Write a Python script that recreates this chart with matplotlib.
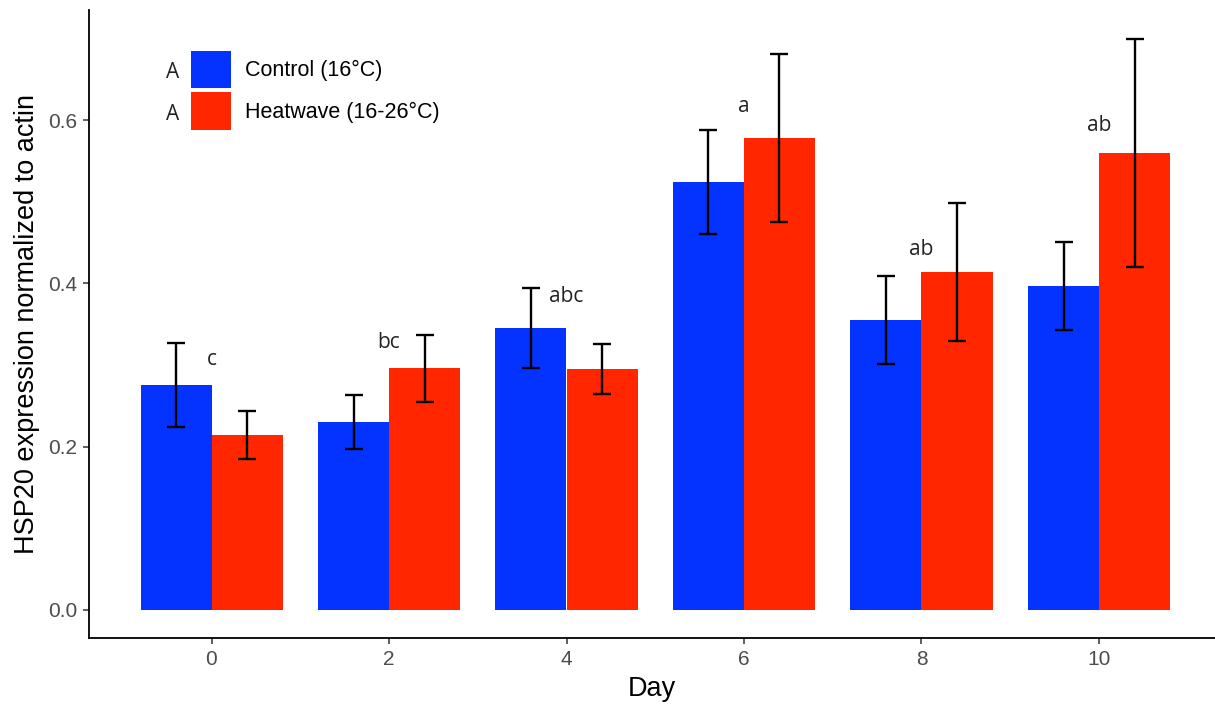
import matplotlib
matplotlib.use("Agg")
import matplotlib.pyplot as plt
import numpy as np
from matplotlib.patches import Patch

days = [0, 2, 4, 6, 8, 10]
control_mean = [0.2755, 0.230, 0.345, 0.5237, 0.3551, 0.3967]
control_se = [0.052, 0.033, 0.049, 0.0635, 0.054, 0.054]
heat_mean = [0.2143, 0.296, 0.2947, 0.5783, 0.4135, 0.5596]
heat_se = [0.029, 0.041, 0.0306, 0.103, 0.0845, 0.140]
letters = ["c", "bc", "abc", "a", "ab", "ab"]
letter_y = [0.307, 0.327, 0.384, 0.616, 0.442, 0.593]
series_labels = ["Control (16°C)", "Heatwave (16-26°C)"]
legend_letters = ["A", "A"]
yticks = [0.0, 0.2, 0.4, 0.6]

blue = "#0433FF"
red = "#FF2600"

W, H = 1215, 705
fig = plt.figure(figsize=(W / 100, H / 100), dpi=100)
left, right, top, bottom = 89, 1215, 10, 638
ax = fig.add_axes([left / W, 1 - bottom / H, (right - left) / W, (bottom - top) / H])

x = np.array(days, dtype=float)
bw = 0.8
ax.bar(x - bw / 2, control_mean, width=bw, color=blue, linewidth=0, zorder=2)
ax.bar(x + bw / 2, heat_mean, width=bw, color=red, linewidth=0, zorder=2)
ax.errorbar(x - bw / 2, control_mean, yerr=control_se, fmt="none", ecolor="black",
            elinewidth=1.7, capsize=6.2, capthick=1.7, zorder=3)
ax.errorbar(x + bw / 2, heat_mean, yerr=heat_se, fmt="none", ecolor="black",
            elinewidth=1.7, capsize=6.2, capthick=1.7, zorder=3)

for d, lab, ly in zip(days, letters, letter_y):
    ax.text(d, ly, lab, ha="center", va="center", fontsize=15,
            family=["Open Sans", "DejaVu Sans"], color="#222222", zorder=4)

px_per_day = 88.75
x0_px = 211.5
ax.set_xlim((left - x0_px) / px_per_day, (right - x0_px) / px_per_day)
ax.set_ylim(-0.0343, 0.7347)
ax.set_xticks(days)
ax.set_xticklabels([str(d) for d in days])
ax.set_yticks(yticks)
ax.set_yticklabels([f"{v:.1f}" for v in yticks])

for s in ["top", "right"]:
    ax.spines[s].set_visible(False)
for s in ["left", "bottom"]:
    ax.spines[s].set_linewidth(1.3)
    ax.spines[s].set_color("black")
ax.tick_params(axis="both", length=4.5, width=1.1, color="#333333",
               labelsize=15, labelcolor="#4D4D4D", pad=4)
for t in ax.get_xticklabels() + ax.get_yticklabels():
    t.set_family(["Liberation Sans", "DejaVu Sans"])

ax.set_xlabel("Day", fontsize=19.5, family=["Liberation Sans", "DejaVu Sans"], labelpad=5)
ax.set_ylabel("HSP20 expression normalized to actin", fontsize=19.5,
              family=["Liberation Sans", "DejaVu Sans"], labelpad=6)

handles = [Patch(facecolor=blue, edgecolor="none"), Patch(facecolor=red, edgecolor="none")]
leg = fig.legend(handles, series_labels, loc="upper left",
                 bbox_to_anchor=(191 / W, 1 - 51 / H), bbox_transform=fig.transFigure,
                 frameon=False, prop={"family": ["Liberation Sans", "DejaVu Sans"], "size": 15.5},
                 handlelength=1.86, handleheight=2.3, handletextpad=0.65,
                 labelspacing=0.18, borderpad=0, borderaxespad=0)
for ytxt, lab in zip([72, 114], legend_letters):
    fig.text(173 / W, 1 - ytxt / H, lab, ha="center", va="center", fontsize=15,
             family=["Open Sans", "DejaVu Sans"], color="#222222")

fig.savefig("out.png", dpi=100)
